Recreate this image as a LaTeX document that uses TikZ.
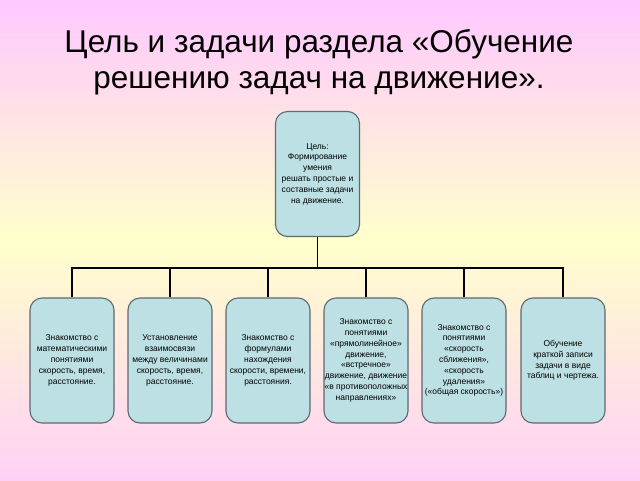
\documentclass[tikz,border=0pt]{standalone}
\usepackage{fontspec}
\setmainfont{Liberation Sans}
\usetikzlibrary{positioning}
\definecolor{boxfill}{RGB}{188,224,228}
\definecolor{boxline}{RGB}{96,104,112}
\definecolor{bgpink}{RGB}{255,200,255}
\definecolor{bgyellow}{RGB}{255,255,204}
\definecolor{bgrose}{RGB}{255,208,245}
\tikzset{box/.style = {draw = boxline, fill = boxfill, line width = 1.1pt, rounded corners = 12pt,
    minimum width = 84pt, minimum height = 125pt, align = center, inner sep = 0pt,
    font = \fontsize{8.5}{10.8}\selectfont}}
\tikzset{link/.style = {line width = 1.8pt}}

\begin{document}
\begin{tikzpicture}[x = 1pt, y = -1pt]
      \shade [top color = bgpink, bottom color = bgrose, middle color = bgyellow] (0, 0) rectangle (640, 480);
      \useasboundingbox (0, 0) rectangle (640, 480);
      \node [align = center, font = \fontsize{31.5}{36}\selectfont] (title) at (319, 62)
        {Цель и задачи раздела «Обучение\\решению задач на движение».};
      \node [box] (goal) at (317.5, 174) {Цель:\\Формирование\\умения\\решать простые и\\составные задачи\\на движение.};
      \node [box] (k1) at (72, 360.5) {Знакомство с\\математическими\\понятиями\\скорость, время,\\расстояние.};
      \node [box] (k2) at (170, 360.5) {Установление\\взаимосвязи\\между величинами\\скорость, время,\\расстояние.};
      \node [box] (k3) at (268, 360.5) {Знакомство с\\формулами\\нахождения\\скорости, времени,\\расстояния.};
      \node [box] (k4) at (366, 360.5) {Знакомство с\\понятиями\\«прямолинейное»\\движение,\\«встречное»\\движение, движение\\«в противоположных\\направлениях»};
      \node [box] (k5) at (464, 360.5) {Знакомство с\\понятиями\\«скорость\\сближения»,\\«скорость\\удаления»\\(«общая скорость»)};
      \node [box] (k6) at (563, 360.5) {Обучение\\краткой записи\\задачи в виде\\таблиц и чертежа.};
      \draw [link] (goal.south) -- ++(0, 31) coordinate (hub);
      \foreach \i in {1, ..., 6} {
        \draw [link] (k\i.north) |- (hub);
      }
    \end{tikzpicture}
\end{document}
